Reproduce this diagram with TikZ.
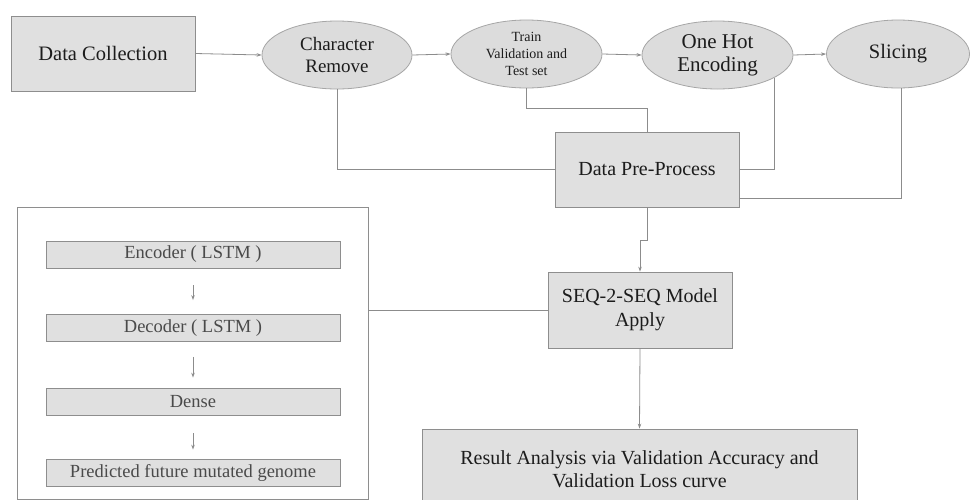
\documentclass[tikz,border=0pt]{standalone}
\usepackage{fontspec}
\setmainfont{Liberation Serif}
\usetikzlibrary{shapes.geometric,arrows.meta,calc}
\definecolor{boxfill}{HTML}{E0E0E0}
\definecolor{boxline}{HTML}{8E8E8E}
\definecolor{ellfill}{HTML}{DCDCDC}
\definecolor{ellline}{HTML}{A6A6A6}
\definecolor{wire}{HTML}{8C8C8C}
\definecolor{ink}{HTML}{1C1C1C}
\definecolor{softink}{HTML}{4A4A4A}
\tikzset{
  stagebox/.style={draw=boxline, fill=boxfill, line width=0.8pt, rectangle,
    inner sep=0pt, align=center, text=ink},
  oval/.style={draw=ellline, fill=ellfill, line width=0.8pt, ellipse,
    inner sep=0pt, align=center, text=ink},
  layerbox/.style={draw=boxline, fill=boxfill, line width=0.8pt, rectangle,
    inner sep=0pt, minimum width=294pt, minimum height=27pt, text=softink,
    font=\fontsize{18.5}{21}\selectfont},
  wireline/.style={draw=wire, line width=0.8pt},
  arr/.style={wireline, -{Stealth[length=5pt,width=3.5pt]}},
}
\begin{document}
\begin{tikzpicture}[x=1pt, y=-1pt]
\clip (0,0) rectangle (971,499);
\fill[white] (0,0) rectangle (971,499);

% top row of stages
\node[stagebox, minimum width=184pt, minimum height=75pt,
  font=\fontsize{20.5}{24}\selectfont] (dc) at (103,53.5) {Data Collection};
\node[oval, minimum width=150pt, minimum height=68pt,
  font=\fontsize{19}{22}\selectfont] (cr) at (337,55) {Character\\Remove};
\node[oval, minimum width=151pt, minimum height=68pt,
  font=\fontsize{14}{17}\selectfont] (tv) at (526.5,54) {Train\\Validation and\\Test set};
\node[oval, minimum width=151pt, minimum height=68pt,
  font=\fontsize{21}{23}\selectfont] (oh) at (717.5,55) {One Hot\\Encoding};
\node[oval, minimum width=143pt, minimum height=68pt,
  font=\fontsize{20.5}{24}\selectfont] (sl) at (898,54) {Slicing};

% pre-processing, model and results
\node[stagebox, minimum width=184pt, minimum height=75pt,
  font=\fontsize{20}{24}\selectfont] (dp) at (647,169.5) {Data Pre-Process};
\node[stagebox, minimum width=184pt, minimum height=76pt,
  font=\fontsize{20}{24}\selectfont] (seq) at (640,310) {SEQ-2-SEQ Model\\Apply};
\node[stagebox, minimum width=435pt, minimum height=80pt,
  font=\fontsize{20}{23}\selectfont] (res) at (639.5,469) {Result Analysis via Validation Accuracy and\\Validation Loss curve};

% model architecture panel
\node[draw=boxline, fill=white, line width=0.8pt, rectangle, inner sep=0pt,
  minimum width=351pt, minimum height=292pt] (panel) at (192.5,353) {};
\node[layerbox] (enc) at (193,254.5) {Encoder ( LSTM )};
\node[layerbox] (dec) at (193,328) {Decoder ( LSTM )};
\node[layerbox] (den) at (193,401.5) {Dense};
\node[layerbox] (pred) at (193,472.5) {Predicted future mutated genome};

\draw[arr] ([yshift=-17pt]enc.south) -- ([yshift=14pt]dec.north);
\draw[arr] ([yshift=-15pt]dec.south) -- ([yshift=10pt]den.north);
\draw[arr] ([yshift=-18pt]den.south) -- ([yshift=9pt]pred.north);

% horizontal flow along the top
\draw[arr] (dc.east) -- (cr.west);
\draw[arr] (cr.east) -- (tv.west);
\draw[arr] (tv.east) -- (oh.west);
\draw[arr] (oh.east) -- (sl.west);

% feeds into the pre-processing stage
\draw[wireline] (cr.south) |- (dp.west);
\draw[wireline] (tv.south) -- ++(0,20) -| (dp.north);
\draw[wireline] (oh.-22.5) |- (dp.east);
\draw[wireline] (sl.-84) |- ([yshift=-28.5pt]dp.east);

% model and evaluation
\draw[arr] (dp.south) -- ++(0,33) -| (seq.north);
\draw[wireline] (seq.west) -- (seq.west -| panel.east);
\draw[arr] (seq.south) -- (res.north);
\end{tikzpicture}
\end{document}
